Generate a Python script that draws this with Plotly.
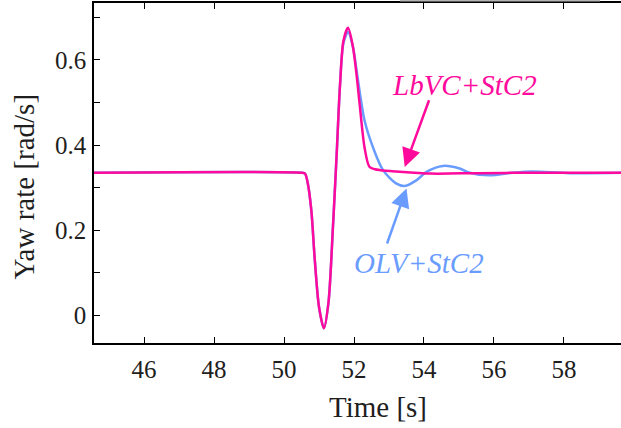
import plotly.graph_objects as go

# LbVC+StC2 (magenta)
t_lbvc = [44.5, 50.5, 50.6, 50.68, 50.78, 50.88, 51.0, 51.14, 51.27, 51.4, 51.5, 51.6, 51.7, 51.83,
          51.97, 52.08, 52.16, 52.3, 52.44, 52.6, 52.75, 53.2, 54.2, 55.5, 57.0, 59.7]
y_lbvc = [0.335, 0.335, 0.333, 0.31, 0.247, 0.13, 0.02, -0.03, 0.03, 0.21, 0.37, 0.54, 0.645, 0.675,
          0.63, 0.56, 0.497, 0.395, 0.349, 0.343, 0.341, 0.338, 0.333, 0.334, 0.335, 0.335]

# OLV+StC2 (blue)
t_olv = [44.5, 50.5, 50.6, 50.68, 50.78, 50.88, 51.0, 51.14, 51.27, 51.4, 51.5, 51.6, 51.7, 51.83,
         51.97, 52.1, 52.3, 52.54, 52.83, 53.2, 53.45, 53.78, 54.07, 54.54, 55.02, 55.3, 55.88,
         56.53, 57.1, 58.16, 59.7]
y_olv = [0.335, 0.335, 0.333, 0.31, 0.247, 0.13, 0.02, -0.03, 0.03, 0.21, 0.37, 0.54, 0.64, 0.665,
         0.63, 0.56, 0.458, 0.395, 0.341, 0.31, 0.304, 0.317, 0.337, 0.351, 0.345, 0.335, 0.329,
         0.335, 0.338, 0.334, 0.335]

x_ticks = [46, 48, 50, 52, 54, 56, 58]
y_ticks = [0, 0.2, 0.4, 0.6]
y_tick_labels = ["0", "0.2", "0.4", "0.6"]

MAGENTA = "#ff0a9c"
BLUE = "#6a9cff"
FONT = "Times New Roman, Liberation Serif, serif"
TXT = "#1e1e1e"

fig = go.Figure()
fig.add_trace(go.Scatter(x=t_olv, y=y_olv, mode="lines", name="OLV+StC2",
                         line=dict(color=BLUE, width=2.5, shape="spline", smoothing=0.8)))
fig.add_trace(go.Scatter(x=t_lbvc, y=y_lbvc, mode="lines", name="LbVC+StC2",
                         line=dict(color=MAGENTA, width=2.5, shape="spline", smoothing=0.8)))

fig.add_annotation(x=53.45, y=0.3485, ax=54.16, ay=0.5085, axref="x", ayref="y",
                   xref="x", yref="y", text="", showarrow=True, arrowhead=2,
                   arrowsize=1.5, arrowwidth=2.5, arrowcolor=MAGENTA)
fig.add_annotation(x=53.5, y=0.298, ax=52.93, ay=0.1654, axref="x", ayref="y",
                   xref="x", yref="y", text="", showarrow=True, arrowhead=2,
                   arrowsize=1.5, arrowwidth=2.5, arrowcolor=BLUE)
fig.add_annotation(x=55.16, y=0.542, xref="x", yref="y", text="<i>LbVC+StC2</i>",
                   showarrow=False, font=dict(family=FONT, size=29, color=MAGENTA))
fig.add_annotation(x=53.85, y=0.123, xref="x", yref="y", text="<i>OLV+StC2</i>",
                   showarrow=False, font=dict(family=FONT, size=29, color=BLUE))

# axis titles
fig.add_annotation(x=(378 - 94) / 527, y=0, xref="paper", yref="paper", yshift=-64,
                   yanchor="middle", xanchor="center", text="Time [s]", showarrow=False,
                   font=dict(family=FONT, size=29, color=TXT))
fig.add_annotation(x=0, y=(343 - 186) / 341, xref="paper", yref="paper", xshift=-70,
                   xanchor="center", yanchor="middle", textangle=-90, text="Yaw rate [rad/s]",
                   showarrow=False, font=dict(family=FONT, size=29, color=TXT))

# thin grey strip at the top edge
fig.add_shape(type="rect", xref="paper", yref="paper", x0=(400 - 94) / 527, x1=(600 - 94) / 527,
              y0=1 + 1.5 / 341, y1=1 + 3 / 341, line=dict(width=0), fillcolor="#b4b4b4")

fig.update_layout(
    width=621, height=428,
    margin=dict(l=94, r=0, t=3, b=85, autoexpand=False),
    paper_bgcolor="white", plot_bgcolor="white",
    showlegend=False,
    font=dict(family=FONT, size=25, color=TXT),
    xaxis=dict(range=[44.57, 59.63], tickvals=x_ticks, ticks="inside", ticklen=6,
               tickwidth=1.3, tickcolor="black", showline=True, linecolor="black",
               linewidth=1.6, mirror="ticks", showgrid=False, zeroline=False,
               automargin=False, ticklabelstandoff=3,
               tickfont=dict(family=FONT, size=25, color=TXT)),
    yaxis=dict(range=[-0.0646, 0.7333], tickvals=y_ticks, ticktext=y_tick_labels,
               ticks="inside", ticklen=6, tickwidth=1.3, tickcolor="black",
               showline=True, linecolor="black", linewidth=1.6, mirror=False,
               showgrid=False, zeroline=False, automargin=False, ticklabelstandoff=1,
               tickfont=dict(family=FONT, size=25, color=TXT),
               minor=dict(dtick=0.1, tick0=0, ticks="inside", ticklen=6, tickwidth=1.3,
                          tickcolor="black", showgrid=False)),
)

fig.write_html("out.html", config={"displayModeBar": False},
               post_script="document.body.style.margin='0';document.body.style.overflow='hidden';")
